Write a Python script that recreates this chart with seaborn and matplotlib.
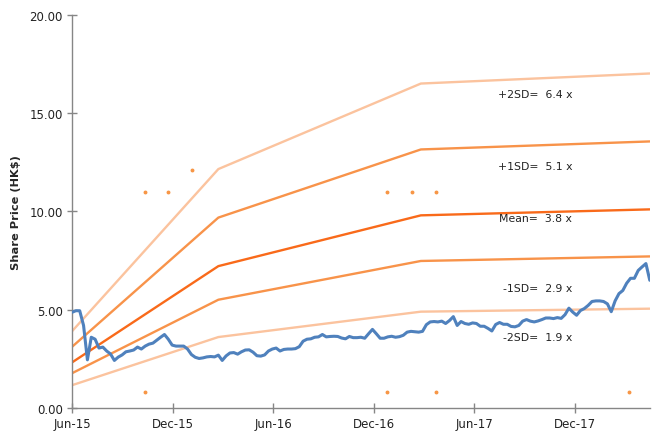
import matplotlib
matplotlib.use("Agg")
import matplotlib.pyplot as plt
import matplotlib.dates as mdates
import matplotlib.transforms as mtransforms
import numpy as np
import pandas as pd
import seaborn as sns

# Weekly closing share price (HK$), from the first week of June 2015
price_start = "2015-06-01"
prices = [
    4.87, 4.95, 4.95, 4.20, 2.45, 3.60, 3.50, 3.05, 3.10, 2.90,
    2.75, 2.42, 2.59, 2.70, 2.86, 2.90, 2.95, 3.10, 3.00, 3.15,
    3.25, 3.30, 3.45, 3.60, 3.74, 3.50, 3.20, 3.15, 3.15, 3.15,
    3.00, 2.72, 2.58, 2.52, 2.55, 2.60, 2.62, 2.60, 2.69, 2.42,
    2.65, 2.80, 2.82, 2.74, 2.86, 2.95, 2.96, 2.84, 2.66, 2.64,
    2.70, 2.90, 3.00, 3.05, 2.90, 2.98, 3.00, 3.00, 3.02, 3.12,
    3.40, 3.50, 3.52, 3.60, 3.62, 3.74, 3.62, 3.64, 3.65, 3.64,
    3.56, 3.52, 3.64, 3.58, 3.58, 3.60, 3.55, 3.78, 4.00, 3.78,
    3.55, 3.55, 3.62, 3.65, 3.60, 3.63, 3.70, 3.86, 3.90, 3.88,
    3.86, 3.90, 4.24, 4.38, 4.40, 4.38, 4.42, 4.30, 4.45, 4.65,
    4.20, 4.40, 4.30, 4.26, 4.33, 4.30, 4.16, 4.16, 4.05, 3.92,
    4.25, 4.35, 4.26, 4.26, 4.15, 4.13, 4.20, 4.42, 4.50, 4.42,
    4.38, 4.43, 4.50, 4.58, 4.58, 4.55, 4.60, 4.56, 4.75, 5.08,
    4.88, 4.72, 4.96, 5.06, 5.22, 5.42, 5.45, 5.45, 5.42, 5.30,
    4.90, 5.45, 5.82, 5.98, 6.35, 6.60, 6.60, 7.00, 7.18, 7.35,
    6.50,
]

# Forward EPS (HK$) at each estimate date
eps_dates = ["2015-06-01", "2016-02-22", "2017-02-24", "2018-04-16"]
eps_values = [0.61, 1.90, 2.58, 2.66]

# P/E band definitions
band_names = ["+2SD", "+1SD", "Mean", "-1SD", "-2SD"]
band_multiples = [6.4, 5.1, 3.8, 2.9, 1.9]
band_colors = ["#FBC39E", "#F8934A", "#F96A1A", "#F8934A", "#FBC39E"]

# Stray point labels left on the chart
marker_dates = ["2015-10-11", "2015-11-22", "2016-01-05", "2016-12-25",
                "2017-02-07", "2017-03-23", "2015-10-11", "2016-12-25",
                "2017-03-23", "2018-03-10"]
marker_values = [11.0, 11.0, 12.1, 11.0, 11.0, 11.0, 0.8, 0.8, 0.8, 0.8]

sns.set_style("white")
plt.rcParams["font.family"] = ["DejaVu Sans"]

fig = plt.figure(figsize=(6.57, 4.35), dpi=100)
ax = fig.add_axes([0.1096, 0.0598, 0.8794, 0.9034])

eps_idx = pd.to_datetime(eps_dates)
for name, mult, col in zip(band_names, band_multiples, band_colors):
    band = pd.DataFrame({"date": eps_idx, "value": np.array(eps_values) * mult})
    sns.lineplot(data=band, x="date", y="value", ax=ax, color=col,
                 linewidth=1.7, zorder=2)

price_df = pd.DataFrame({
    "date": pd.date_range(price_start, periods=len(prices), freq="7D"),
    "price": prices,
})
sns.lineplot(data=price_df, x="date", y="price", ax=ax, color="#4F81BD",
             linewidth=2.2, zorder=3)

ax.plot(pd.to_datetime(marker_dates), marker_values, linestyle="none",
        marker="o", markersize=1.8, color="#F79646", zorder=1)

# Band labels
trans = mtransforms.blended_transform_factory(ax.transAxes, ax.transData)
label_offsets = [16.0, 12.3, 9.65, 6.1, 3.6]
for name, mult, ypos in zip(band_names, band_multiples, label_offsets):
    ax.text(0.866, ypos, f"{name}=  {mult:.1f} x", transform=trans,
            ha="right", va="center", fontsize=7.8, color="#222222")

ax.set_xlim(pd.Timestamp("2015-06-01"), pd.Timestamp("2018-04-16"))
ax.set_ylim(0, 20)
ax.set_yticks([0, 5, 10, 15, 20])
ax.yaxis.set_major_formatter(matplotlib.ticker.FormatStrFormatter("%.2f"))
ax.xaxis.set_major_locator(mdates.MonthLocator(bymonth=[6, 12]))
ax.xaxis.set_major_formatter(mdates.DateFormatter("%b-%y"))

ax.set_xlabel("")
ax.set_ylabel("Share Price (HK$)", fontsize=8.2, fontweight="bold", labelpad=6)

for side in ["top", "right"]:
    ax.spines[side].set_visible(False)
for side in ["left", "bottom"]:
    ax.spines[side].set_color("#868686")
    ax.spines[side].set_linewidth(1.0)

ax.tick_params(axis="both", direction="inout", length=7, width=1.0,
               color="#868686", labelsize=8.5, labelcolor="#222222")
ax.tick_params(axis="x", pad=3, bottom=True)
ax.tick_params(axis="y", pad=3, left=True)

fig.savefig("out.png", dpi=100, facecolor="white")
